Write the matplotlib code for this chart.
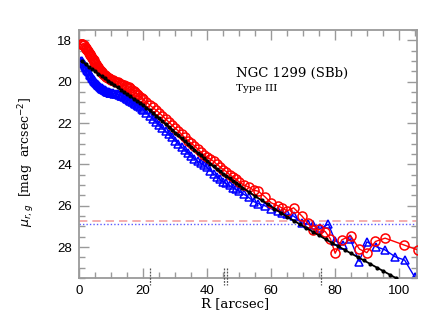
import matplotlib
matplotlib.use("Agg")
import matplotlib.pyplot as plt

# ---- data ----
r_red = [0.5, 0.75, 1, 1.25, 1.5, 1.75, 2, 2.25, 2.5, 2.75, 3, 3.25, 3.5, 3.75, 4, 4.25, 4.5, 4.75,
         5, 5.25, 5.5, 5.75, 6, 6.25, 6.5, 6.75, 7, 7.25, 7.5, 7.75, 8, 8.25, 8.5, 8.75, 9, 9.25,
         9.5, 9.75, 10, 10.5, 11, 11.5, 12, 12.5, 13, 13.5, 14, 14.5, 15, 15.5, 16, 16.5, 17, 17.5,
         18, 18.5, 19, 19.5, 20,
         21, 22, 23, 24, 25, 26, 27, 28, 29, 30, 31, 32, 33, 34, 35, 36, 37, 38, 39, 40, 41, 42, 43,
         44, 45, 46, 47, 48, 49, 50, 51.5, 53, 54.5, 56, 58, 60, 62, 63.3, 65, 67, 69.6, 71.5, 73.2,
         75, 76.9, 78.5, 80, 82.1, 84.8, 87.6, 89.9, 92.6, 95.6, 101.5, 106]
mu_red = [18.2, 18.2, 18.2, 18.22, 18.25, 18.3, 18.35, 18.4, 18.45, 18.52, 18.6, 18.66, 18.72,
          18.78, 18.85, 18.91, 18.97, 19.03, 19.1, 19.16, 19.22, 19.29, 19.35, 19.4, 19.45, 19.5,
          19.55, 19.59, 19.63, 19.67, 19.7, 19.73, 19.76, 19.79, 19.82, 19.84, 19.86, 19.88, 19.9,
          19.94, 19.97, 20.0, 20.02, 20.06, 20.1, 20.14, 20.18, 20.22, 20.25, 20.28, 20.32, 20.38,
          20.45, 20.51, 20.58, 20.65, 20.72, 20.79, 20.86,
          21.0, 21.12, 21.25, 21.37, 21.5, 21.65, 21.8, 21.95, 22.1, 22.25, 22.38, 22.55, 22.7,
          22.85, 22.98, 23.1, 23.25, 23.4, 23.55, 23.65, 23.75, 23.85, 24.0, 24.12, 24.25, 24.35,
          24.5, 24.6, 24.72, 24.85, 25.0, 25.1, 25.25, 25.3, 25.56, 25.86, 26.0, 26.1, 26.25,
          26.1, 26.5, 26.85, 27.17, 27.15, 27.25, 27.6, 28.3, 27.65, 27.45, 28.1, 28.27, 27.73,
          27.57, 27.9, 28.15]

r_blue = [0.5, 0.75, 1, 1.25, 1.5, 1.75, 2, 2.25, 2.5, 2.75, 3, 3.25, 3.5, 3.75, 4, 4.25, 4.5, 4.75,
          5, 5.25, 5.5, 5.75, 6, 6.25, 6.5, 6.75, 7, 7.25, 7.5, 7.75, 8, 8.25, 8.5, 8.75, 9, 9.25,
          9.5, 9.75, 10, 10.5, 11, 11.5, 12, 12.5, 13, 13.5, 14, 14.5, 15, 15.5, 16, 16.5, 17, 17.5,
          18, 18.5, 19, 19.5, 20,
          21, 22, 23, 24, 25, 26, 27, 28, 29, 30, 31, 32, 33, 34, 35, 36, 37, 38, 39, 40, 41, 42, 43,
          44, 45, 46, 47, 48, 49, 50, 51.5, 53, 54.5, 56, 58, 60, 62, 63.3, 65, 67, 69.6, 71.5, 73.2,
          75.3, 77.9, 80, 82.6, 84.7, 87.5, 89.9, 92.8, 95.6, 98.75, 101.7, 104.8]
mu_blue = [19.0, 19.02, 19.05, 19.1, 19.15, 19.22, 19.3, 19.36, 19.42, 19.48, 19.55, 19.61, 19.67,
           19.73, 19.8, 19.85, 19.9, 19.95, 20.0, 20.05, 20.09, 20.14, 20.18, 20.22, 20.25, 20.29,
           20.32, 20.35, 20.37, 20.4, 20.42, 20.44, 20.46, 20.48, 20.5, 20.51, 20.53, 20.54, 20.55,
           20.57, 20.58, 20.6, 20.62, 20.65, 20.68, 20.71, 20.75, 20.8, 20.85, 20.9, 20.95, 21.0,
           21.05, 21.1, 21.15, 21.2, 21.25, 21.3, 21.35,
           21.5, 21.65, 21.8, 21.95, 22.1, 22.25, 22.4, 22.55, 22.7, 22.85, 23.0, 23.15, 23.3,
           23.45, 23.6, 23.72, 23.84, 23.95, 24.05, 24.15, 24.3, 24.45, 24.6, 24.72, 24.85, 24.92,
           25.02, 25.12, 25.2, 25.3, 25.45, 25.6, 25.8, 25.9, 26.0, 26.15, 26.25, 26.35, 26.42,
           26.5, 26.83, 26.9, 26.95, 27.1, 26.9, 27.7, 27.9, 27.6, 28.7, 27.75, 27.98, 28.14,
           28.47, 28.63, 29.44]

r_fit = [0.8, 2, 3, 4, 5, 6, 7, 8, 9, 10, 11, 12, 13, 14, 15, 16, 17, 18, 19, 20, 21, 22, 23, 24,
         25, 26, 27, 28, 29, 30, 31, 32, 33, 34, 35, 36, 37, 38, 39, 40, 41, 42, 43, 44, 45, 46,
         47, 48, 49, 50, 51, 53, 55, 57, 59, 61, 63, 65, 67, 69, 71, 73, 75, 77, 79, 81, 83, 85,
         87, 89, 91, 93, 95, 97, 99, 101]
mu_fit = [19.0, 19.15, 19.27, 19.38, 19.5, 19.62, 19.73, 19.84, 19.95, 20.06, 20.17, 20.28,
          20.39, 20.5, 20.6, 20.71, 20.82, 20.92, 21.02, 21.14, 21.26, 21.39, 21.52, 21.65,
          21.78, 21.91, 22.05, 22.18, 22.32, 22.46, 22.6, 22.74, 22.88, 23.01, 23.15, 23.29,
          23.43, 23.56, 23.7, 23.84, 23.97, 24.1, 24.22, 24.34, 24.45, 24.57, 24.68, 24.79,
          24.9, 25.01, 25.12, 25.33, 25.54, 25.74, 25.94, 26.14, 26.34, 26.53, 26.72, 26.9,
          27.08, 27.26, 27.44, 27.62, 27.8, 27.97, 28.14, 28.31, 28.48, 28.65, 28.82, 28.99,
          29.16, 29.33, 29.5, 29.67]

sky_red = 26.75
sky_blue = 26.87
breaks = [22.2, 45.3, 46.3, 75.5]

# ---- figure ----
fig = plt.figure(figsize=(4.30, 3.33), dpi=100)
ax = fig.add_axes([0.184, 0.165, 0.786, 0.745])

gray = "#9a9a9a"
ax.axhline(sky_red, color="#f4a0a0", lw=1.2, ls=(0, (5, 3)), zorder=1)
ax.axhline(sky_blue, color="#5a5aff", lw=1.0, ls=(0, (1, 1.5)), zorder=1)

ax.plot(r_red, mu_red, color="red", lw=1.0, marker="o", ms=6.5, mfc="none", mec="red",
        mew=1.1, zorder=3)
ax.plot(r_blue, mu_blue, color="blue", lw=1.0, marker="^", ms=6.3, mfc="none", mec="blue",
        mew=1.1, zorder=2)
ax.plot(r_fit, mu_fit, color="black", lw=1.3, marker="o", ms=2.0, zorder=4)

for b in breaks:
    ax.plot([b, b], [29.0, 29.85], color="#555555", lw=0.9, ls=(0, (1.5, 1)), clip_on=False,
            zorder=5)

ax.set_xlim(0, 105.6)
ax.set_ylim(29.5, 17.5)

ax.set_xticks([0, 20, 40, 60, 80, 100])
ax.set_xticks(range(0, 106, 5), minor=True)
ax.set_yticks([18, 20, 22, 24, 26, 28])
ax.set_yticks([17.5 + 0.5 * i for i in range(25)], minor=True)
ax.tick_params(which="both", direction="in", top=True, right=True, color=gray, width=1.0,
               labelsize=9.5, pad=5)
ax.tick_params(which="major", length=7)
ax.tick_params(which="minor", length=4)
for s in ax.spines.values():
    s.set_color(gray)
    s.set_linewidth(1.3)
for lab in ax.get_xticklabels() + ax.get_yticklabels():
    lab.set_family("Liberation Sans")

ax.set_xlabel("R [arcsec]", family="DejaVu Serif", fontsize=9.5)
ax.xaxis.set_label_coords(0.46, -0.075)
ax.set_ylabel(r"$\mu_{r,g}$  [mag  arcsec$^{-2}$]", family="DejaVu Serif", fontsize=9)
ax.yaxis.set_label_coords(-0.125, 0.47)

ax.text(49, 19.6, "NGC 1299 (SBb)", family="DejaVu Serif", fontsize=9.5, va="center", ha="left")
ax.text(49, 20.35, "Type III", family="DejaVu Serif", fontsize=7.5, va="center", ha="left")

fig.savefig("out.png", dpi=100)
